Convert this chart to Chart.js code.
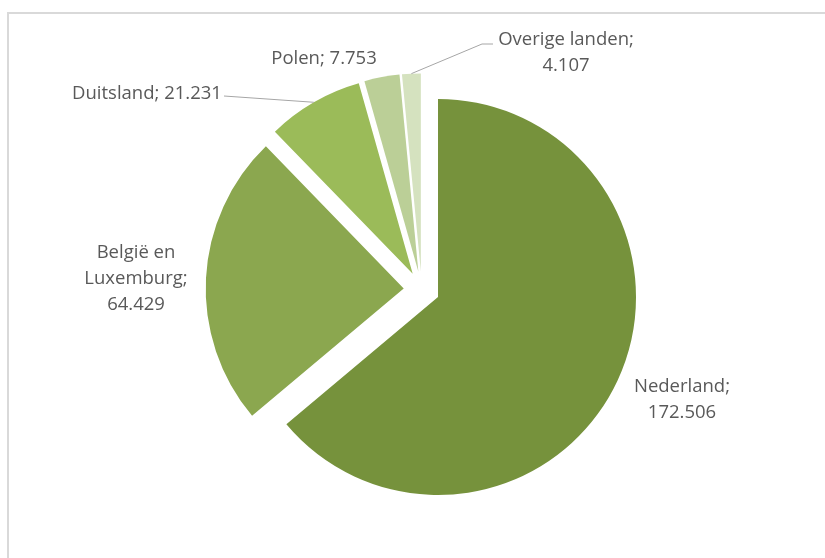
<!DOCTYPE html>
<html>
<head>
<meta charset="utf-8">
<script src="https://cdn.jsdelivr.net/npm/chart.js@4/dist/chart.umd.min.js"></script>
<style>
  html, body { margin: 0; padding: 0; background: #fff; overflow: hidden; }
  #frame { position: absolute; left: 7px; top: 12px; width: 900px; height: 600px; border: 2px solid #d9d9d9; }
  #wrap { position: absolute; left: 0; top: 0; width: 825px; height: 558px; }
</style>
</head>
<body>
<div id="frame"></div>
<div id="wrap"><canvas id="pieChart" width="825" height="558"></canvas></div>
<script>
// data
const landen = ['Nederland', 'België en Luxemburg', 'Duitsland', 'Polen', 'Overige landen'];
const aantallen = [172506, 64429, 21231, 7753, 4107];
const waardeTekst = ['172.506', '64.429', '21.231', '7.753', '4.107'];
const kleuren = ['#76923c', '#8ba74f', '#9bbb59', '#bbcf97', '#d5e2bf'];

// label text lines and where they sit
const labelRegels = [
    ['Nederland;', waardeTekst[0]],
    ['België en', 'Luxemburg;', waardeTekst[1]],
    ['Duitsland; ' + waardeTekst[2]],
    ['Polen; ' + waardeTekst[3]],
    ['Overige landen;', waardeTekst[4]]
];
const labelPos = [
    {x: 682, y: 387, line: false},
    {x: 136, y: 253, line: false},
    {x: 147, y: 94, line: {x: 224, y: 96}},
    {x: 324, y: 59, line: false},
    {x: 566, y: 40, line: {x: 482, y: 44, x2: 493, y2: 44}}
];

const EXPLODE = 18;

// move each slice out along its middle angle
const explodePlugin = {
    id: 'explode',
    afterUpdate(chart) {
        chart.getDatasetMeta(0).data.forEach(arc => {
            if (arc._exploded) return;
            arc._exploded = true;
            const origDraw = Object.getPrototypeOf(arc).draw;
            arc.draw = function (ctx) {
                const mid = (this.startAngle + this.endAngle) / 2;
                ctx.save();
                ctx.translate(Math.cos(mid) * EXPLODE, Math.sin(mid) * EXPLODE);
                origDraw.call(this, ctx);
                ctx.restore();
            };
        });
    }
};

const labelPlugin = {
    id: 'sliceLabels',
    afterDatasetsDraw(chart) {
        const ctx = chart.ctx;
        const arcs = chart.getDatasetMeta(0).data;
        ctx.save();
        ctx.font = '18.5px "Open Sans", sans-serif';
        ctx.fillStyle = '#595959';
        ctx.textAlign = 'center';
        ctx.textBaseline = 'middle';
        arcs.forEach((arc, i) => {
            const p = labelPos[i];
            labelRegels[i].forEach((t, j) => ctx.fillText(t, p.x, p.y + j * 26));
            if (p.line) {
                const mid = (arc.startAngle + arc.endAngle) / 2;
                const r = arc.outerRadius + EXPLODE;
                const sx = arc.x + Math.cos(mid) * r;
                const sy = arc.y + Math.sin(mid) * r;
                ctx.beginPath();
                ctx.strokeStyle = '#a6a6a6';
                ctx.lineWidth = 1;
                ctx.moveTo(sx, sy);
                ctx.lineTo(p.line.x, p.line.y);
                if (p.line.x2) ctx.lineTo(p.line.x2, p.line.y2);
                ctx.stroke();
            }
        });
        ctx.restore();
    }
};

const ctx = document.getElementById('pieChart').getContext('2d');
const myChart = new Chart(ctx, {
    type: 'pie',
    data: {
        labels: landen,
        datasets: [{
            data: aantallen,
            backgroundColor: kleuren,
            borderWidth: 0,
            hoverOffset: 0
        }]
    },
    options: {
        responsive: false,
        animation: false,
        events: [],
        layout: {
            padding: {left: 118.4, right: 100, top: 91.4, bottom: 70.6}
        },
        plugins: {
            legend: {display: false},
            tooltip: {enabled: false}
        }
    },
    plugins: [explodePlugin, labelPlugin]
});
</script>
</body>
</html>
